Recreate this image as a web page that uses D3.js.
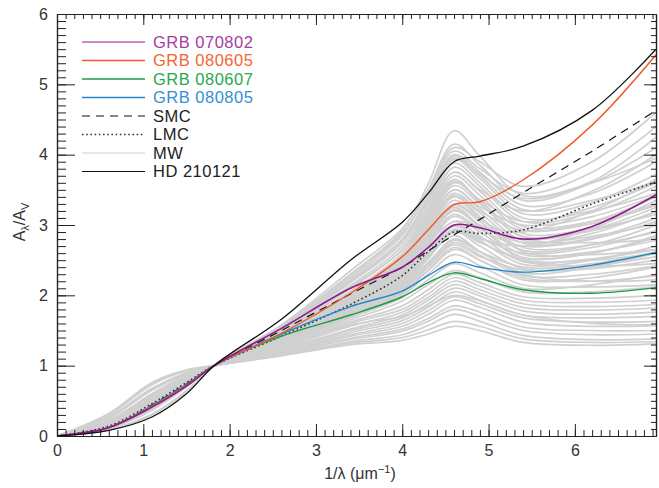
<!DOCTYPE html>
<html>
<head>
<meta charset="utf-8">
<script src="https://cdn.jsdelivr.net/npm/d3@7"></script>
<style>
  html, body { margin: 0; padding: 0; background: #fff; }
  svg { display: block; font-family: "Liberation Sans", Arial, Helvetica, sans-serif; }
</style>
</head>
<body>
<svg id="chart" width="659" height="488"></svg>
<script>
// ---------------- DATA ----------------
// inverse wavelength nodes (1/um) at which every curve is sampled
const xNodes = [0, 0.6, 1.1, 1.5, 1.82, 2.6, 3.4, 4.0, 4.3, 4.6, 4.9, 5.4, 6.2, 6.94];

// Milky Way sight lines (grey bundle), A_lambda/A_V at xNodes
const mwCurves = [
  [0,0.32,0.76,0.94,1,1.14,1.30,1.36,1.45,1.56,1.50,1.33,1.29,1.31],
  [0,0.27,0.68,0.90,1,1.15,1.32,1.40,1.51,1.63,1.56,1.38,1.33,1.34],
  [0,0.30,0.73,0.93,1,1.16,1.34,1.44,1.57,1.73,1.63,1.43,1.37,1.38],
  [0,0.26,0.66,0.89,1,1.17,1.37,1.49,1.63,1.80,1.70,1.50,1.44,1.45],
  [0,0.22,0.60,0.86,1,1.18,1.39,1.52,1.67,1.85,1.76,1.55,1.50,1.50],
  [0,0.25,0.65,0.88,1,1.19,1.42,1.56,1.73,1.93,1.83,1.62,1.56,1.57],
  [0,0.21,0.58,0.85,1,1.20,1.44,1.60,1.78,1.98,1.88,1.68,1.62,1.63],
  [0,0.31,0.74,0.93,1,1.21,1.47,1.64,1.83,2.05,1.93,1.72,1.68,1.70],
  [0,0.22,0.59,0.85,1,1.22,1.50,1.68,1.88,2.10,1.99,1.78,1.73,1.76],
  [0,0.27,0.67,0.90,1,1.23,1.52,1.72,1.93,2.15,2.03,1.83,1.79,1.82],
  [0,0.18,0.52,0.81,1,1.25,1.56,1.76,1.97,2.20,2.08,1.88,1.84,1.87],
  [0,0.21,0.57,0.84,1,1.26,1.60,1.80,2.02,2.25,2.13,1.93,1.90,1.93],
  [0,0.17,0.50,0.80,1,1.28,1.62,1.85,2.08,2.30,2.18,1.98,1.96,2.00],
  [0,0.26,0.66,0.89,1,1.26,1.58,1.70,1.85,2.00,1.92,1.72,1.60,1.58],
  [0,0.18,0.52,0.81,1,1.30,1.65,1.92,2.15,2.35,2.25,2.05,2.05,2.12],
  [0,0.14,0.45,0.76,1,1.32,1.68,1.97,2.22,2.45,2.32,2.10,2.15,2.30],
  [0,0.22,0.60,0.86,1,1.33,1.70,2.00,2.30,2.58,2.42,2.15,2.12,2.15],
  [0,0.17,0.51,0.80,1,1.34,1.72,2.04,2.35,2.65,2.50,2.22,2.25,2.40],
  [0,0.15,0.46,0.77,1,1.35,1.74,2.08,2.42,2.75,2.57,2.28,2.30,2.42],
  [0,0.20,0.57,0.84,1,1.36,1.76,2.10,2.45,2.80,2.62,2.32,2.40,2.60],
  [0,0.11,0.38,0.71,1,1.36,1.78,2.14,2.52,2.90,2.70,2.38,2.42,2.55],
  [0,0.18,0.53,0.81,1,1.37,1.80,2.18,2.58,2.98,2.78,2.44,2.50,2.70],
  [0,0.14,0.44,0.76,1,1.38,1.82,2.22,2.64,3.05,2.84,2.48,2.52,2.65],
  [0,0.21,0.58,0.85,1,1.38,1.84,2.25,2.70,3.12,2.90,2.54,2.60,2.85],
  [0,0.12,0.39,0.72,1,1.39,1.86,2.28,2.75,3.20,2.97,2.58,2.62,2.78],
  [0,0.17,0.50,0.80,1,1.40,1.88,2.32,2.80,3.28,3.05,2.64,2.72,3.00],
  [0,0.15,0.46,0.77,1,1.40,1.90,2.35,2.86,3.35,3.10,2.68,2.72,2.90],
  [0,0.18,0.52,0.81,1,1.41,1.92,2.38,2.90,3.42,3.17,2.74,2.82,3.10],
  [0,0.11,0.37,0.70,1,1.42,1.94,2.42,2.96,3.50,3.23,2.78,2.84,3.02],
  [0,0.14,0.45,0.76,1,1.43,1.96,2.45,3.00,3.56,3.30,2.84,2.94,3.25],
  [0,0.20,0.56,0.83,1,1.44,1.98,2.48,3.05,3.62,3.35,2.88,2.95,3.15],
  [0,0.12,0.38,0.71,1,1.45,2.00,2.52,3.10,3.70,3.42,2.94,3.05,3.40],
  [0,0.15,0.46,0.77,1,1.46,2.03,2.56,3.15,3.75,3.48,2.98,3.05,3.30],
  [0,0.11,0.37,0.70,1,1.47,2.06,2.60,3.20,3.82,3.55,3.05,3.18,3.55],
  [0,0.17,0.50,0.80,1,1.48,2.10,2.65,3.25,3.88,3.60,3.10,3.20,3.45],
  [0,0.09,0.31,0.64,1,1.50,2.14,2.70,3.30,3.93,3.66,3.16,3.32,3.72],
  [0,0.14,0.45,0.76,1,1.52,2.18,2.75,3.35,3.98,3.70,3.22,3.35,3.62],
  [0,0.11,0.38,0.71,1,1.54,2.22,2.80,3.40,4.00,3.75,3.28,3.45,3.90],
  [0,0.18,0.52,0.81,1,1.40,1.90,2.30,2.62,2.90,2.80,2.70,2.95,3.35],
  [0,0.14,0.45,0.76,1,1.43,1.98,2.40,2.75,3.05,2.98,2.90,3.20,3.65],
  [0,0.21,0.59,0.85,1,1.36,1.80,2.20,2.55,2.85,2.62,2.30,2.20,2.22],
  [0,0.17,0.51,0.80,1,1.38,1.84,2.30,2.78,3.25,2.98,2.50,2.42,2.45],
  [0,0.12,0.39,0.72,1,1.45,2.00,2.55,3.10,3.65,3.32,2.82,2.75,2.80],
  [0,0.15,0.46,0.77,1,1.41,1.92,2.40,2.90,3.40,3.12,2.62,2.58,2.65],
  [0,0.16,0.48,0.78,1,1.35,1.75,2.12,2.47,2.78,2.62,2.40,2.45,2.62],
  [0,0.19,0.54,0.82,1,1.37,1.79,2.17,2.55,2.92,2.75,2.52,2.60,2.82],
  [0,0.13,0.42,0.74,1,1.39,1.85,2.27,2.72,3.15,2.94,2.70,2.80,3.05],
  [0,0.16,0.48,0.78,1,1.42,1.93,2.40,2.92,3.45,3.20,2.92,3.02,3.28],
  [0,0.12,0.40,0.73,1,1.44,1.99,2.50,3.05,3.60,3.36,3.05,3.25,3.60],
  [0,0.20,0.56,0.83,1,1.34,1.72,2.06,2.40,2.72,2.55,2.36,2.38,2.50],
  [0,0.15,0.47,0.77,1,1.37,1.81,2.20,2.60,3.00,2.82,2.60,2.68,2.92],
  [0,0.13,0.43,0.75,1,1.40,1.90,2.35,2.83,3.30,3.08,2.80,2.92,3.18],
  [0,0.18,0.53,0.81,1,1.33,1.70,2.03,2.36,2.68,2.50,2.25,2.20,2.28],
  [0,0.14,0.44,0.76,1,1.39,1.87,2.30,2.76,3.22,3.00,2.75,2.88,3.20],
  [0,0.17,0.50,0.80,1,1.36,1.78,2.16,2.55,2.94,2.76,2.50,2.50,2.60],
  [0,0.12,0.40,0.73,1,1.43,1.96,2.45,2.98,3.50,3.26,3.00,3.12,3.42],
  [0,0.11,0.37,0.70,1,1.55,2.25,2.85,3.50,4.15,3.85,3.35,3.60,4.10],
  [0,0.09,0.30,0.63,1,1.57,2.30,2.92,3.58,4.34,3.98,3.42,3.60,3.95],
  [0,0.12,0.39,0.72,1,1.56,2.28,2.88,3.45,4.05,3.80,3.45,3.75,4.40],
  [0,0.09,0.31,0.64,1,1.58,2.35,2.95,3.50,4.10,3.90,3.55,3.90,4.60],
  [0,0.14,0.45,0.76,1,1.52,2.20,2.78,3.38,3.95,3.72,3.38,3.62,4.25],
  [0,0.11,0.38,0.71,1,1.50,2.12,2.65,3.20,3.75,3.50,3.20,3.48,4.00]
];

const smc       = [0,0.12,0.44,0.74,1,1.50,2.02,2.40,2.63,2.86,3.08,3.46,4.05,4.63];
const lmc       = [0,0.14,0.46,0.76,1,1.42,1.87,2.28,2.62,2.90,2.88,2.93,3.30,3.61];
const grb070802 = [0,0.12,0.41,0.71,1,1.53,2.10,2.40,2.68,3.00,2.96,2.80,2.98,3.43];
const grb080605 = [0,0.12,0.42,0.72,1,1.46,2.03,2.55,2.93,3.29,3.33,3.64,4.42,5.42];
const grb080607 = [0,0.12,0.43,0.73,1,1.42,1.72,1.98,2.18,2.32,2.24,2.08,2.03,2.11];
const grb080805 = [0,0.12,0.43,0.73,1,1.45,1.84,2.06,2.28,2.47,2.40,2.33,2.43,2.61];
const hd210121  = [0,0.08,0.27,0.60,1,1.66,2.50,3.04,3.45,3.90,3.98,4.12,4.63,5.50];

const legendLabels = ["GRB 070802","GRB 080605","GRB 080607","GRB 080805","SMC","LMC","MW","HD 210121"];
const xTickValues = [0,1,2,3,4,5,6];
const yTickValues = [0,1,2,3,4,5,6];

// ---------------- DRAW ----------------
const svg = d3.select("#chart");
const L = 57, R = 656, T = 14, B = 436;
const x = d3.scaleLinear().domain([0, 6.94]).range([L, R]);
const y = d3.scaleLinear().domain([0, 6]).range([B, T]);

svg.append("defs").append("clipPath").attr("id","clip")
  .append("rect").attr("x",L).attr("y",T).attr("width",R-L).attr("height",B-T);

const line = d3.line().x((d,i)=>x(xNodes[i])).y(d=>y(d)).curve(d3.curveCatmullRom.alpha(0.5));
const plot = svg.append("g").attr("clip-path","url(#clip)");

plot.selectAll("path.mw").data(mwCurves).join("path")
  .attr("class","mw").attr("d",line)
  .attr("fill","none").attr("stroke","#d0d0d0").attr("stroke-width",1.7);

const series = [
  {data:smc, color:"#111", dash:"8,6", w:1.2},
  {data:lmc, color:"#333", dash:"1.6,2.6", w:1.6},
  {data:grb080607, color:"#1b9a4a", dash:null, w:1.4},
  {data:grb080805, color:"#1f86c8", dash:null, w:1.4},
  {data:grb080605, color:"#f05a28", dash:null, w:1.4},
  {data:grb070802, color:"#8e1a8c", dash:null, w:1.6},
  {data:hd210121, color:"#111", dash:null, w:1.3}
];
series.forEach(s => {
  plot.append("path").datum(s.data).attr("d",line)
    .attr("fill","none").attr("stroke",s.color).attr("stroke-width",s.w)
    .attr("stroke-dasharray",s.dash);
});

// axes
const axisColor = "#222";
function styleAxis(g){
  g.select(".domain").attr("stroke",axisColor).attr("stroke-width",1.2);
  g.selectAll(".tick line").attr("stroke",axisColor).attr("stroke-width",1);
  g.selectAll("text").attr("fill","#333").style("font-size","16px").style("font-family","'Liberation Sans', Arial, sans-serif");
}
const xMinor = d3.range(0, 70).map(i => i/10);
const yMinor = d3.range(0, 61).map(i => i/10);

// bottom
svg.append("g").attr("transform",`translate(0,${B})`)
  .call(d3.axisBottom(x).tickValues(xMinor).tickSize(-6).tickFormat("").tickSizeOuter(0)).call(styleAxis);
svg.append("g").attr("transform",`translate(0,${B})`)
  .call(d3.axisBottom(x).tickValues(xTickValues).tickSize(-12).tickPadding(9).tickFormat(d3.format("d")).tickSizeOuter(0)).call(styleAxis);
// top
svg.append("g").attr("transform",`translate(0,${T})`)
  .call(d3.axisTop(x).tickValues(xMinor).tickSize(-5).tickFormat("").tickSizeOuter(0)).call(styleAxis);
svg.append("g").attr("transform",`translate(0,${T})`)
  .call(d3.axisTop(x).tickValues(xTickValues).tickSize(-11).tickFormat("").tickSizeOuter(0)).call(styleAxis);
// left
svg.append("g").attr("transform",`translate(${L},0)`)
  .call(d3.axisLeft(y).tickValues(yMinor).tickSize(-9).tickFormat("").tickSizeOuter(0)).call(styleAxis);
svg.append("g").attr("transform",`translate(${L},0)`)
  .call(d3.axisLeft(y).tickValues(yTickValues).tickSize(-18).tickPadding(9).tickFormat(d3.format("d")).tickSizeOuter(0)).call(styleAxis);
// right
svg.append("g").attr("transform",`translate(${R},0)`)
  .call(d3.axisRight(y).tickValues(yMinor).tickSize(-5).tickFormat("").tickSizeOuter(0)).call(styleAxis);
svg.append("g").attr("transform",`translate(${R},0)`)
  .call(d3.axisRight(y).tickValues(yTickValues).tickSize(-12).tickFormat("").tickSizeOuter(0)).call(styleAxis);

// axis titles
const xt = svg.append("text").attr("x",360).attr("y",479).attr("text-anchor","middle")
  .attr("fill","#333").style("font-size","16px");
xt.append("tspan").text("1/λ (μm");
xt.append("tspan").text("−1").attr("dy",-6).style("font-size","11px");
xt.append("tspan").text(")").attr("dy",6);

const yt = svg.append("text").attr("transform","translate(25,222) rotate(-90)")
  .attr("text-anchor","middle").attr("fill","#333").style("font-size","16px");
yt.append("tspan").text("A");
yt.append("tspan").text("λ").attr("dy",4).style("font-size","11px");
yt.append("tspan").text("/A").attr("dy",-4);
yt.append("tspan").text("V").attr("dy",4).style("font-size","11px");

// legend
const legendItems = [
  {name:legendLabels[0], color:"#8e1a8c", text:"#a43da2", dash:null, w:1.2},
  {name:legendLabels[1], color:"#f05a28", text:"#f2652f", dash:null, w:1.3},
  {name:legendLabels[2], color:"#1b9a4a", text:"#2aa650", dash:null, w:1.3},
  {name:legendLabels[3], color:"#1f86c8", text:"#3690d0", dash:null, w:1.3},
  {name:legendLabels[4], color:"#111", text:"#222", dash:"8,6", w:1.2},
  {name:legendLabels[5], color:"#333", text:"#222", dash:"1.6,2.6", w:1.6},
  {name:legendLabels[6], color:"#cfcfcf", text:"#222", dash:null, w:1.2},
  {name:legendLabels[7], color:"#111", text:"#222", dash:null, w:1.2}
];
const lg = svg.append("g");
legendItems.forEach((d,i) => {
  const yy = 42 + i*18.5;
  lg.append("line").attr("x1",82).attr("x2",145).attr("y1",yy).attr("y2",yy)
    .attr("stroke",d.color).attr("stroke-width",d.w).attr("stroke-dasharray",d.dash);
  lg.append("text").attr("x",153).attr("y",yy+5.8).text(d.name)
    .attr("fill",d.text).style("font-size","16.5px").style("letter-spacing","0.5px");
});
</script>
</body>
</html>
